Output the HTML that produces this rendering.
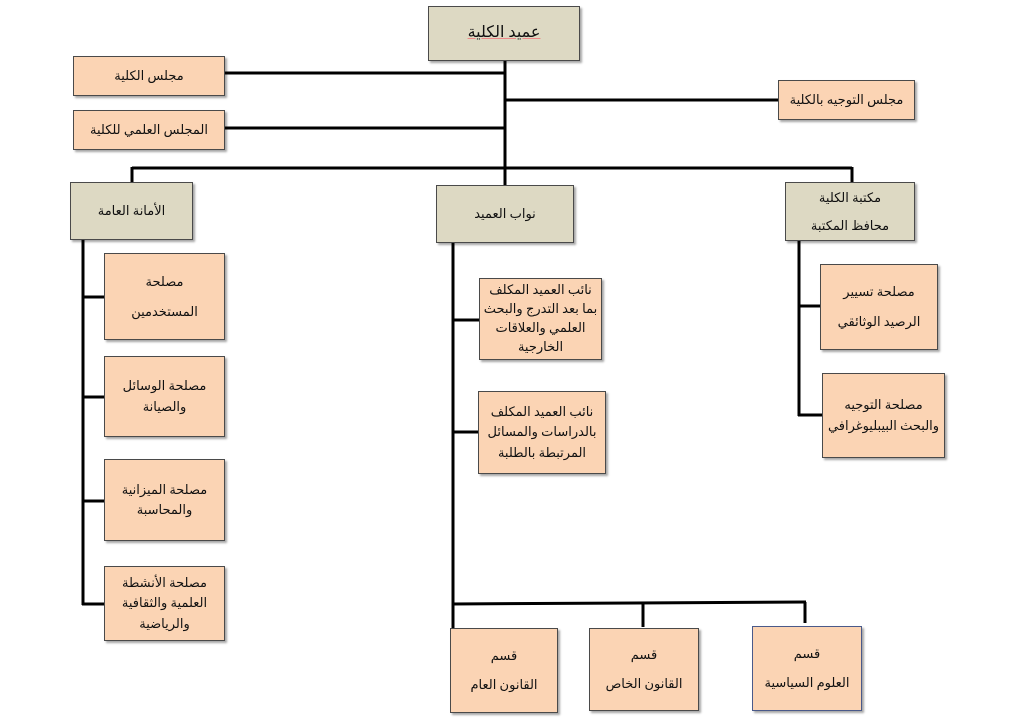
<!DOCTYPE html>
<html><head><meta charset="utf-8">
<style>
html,body{margin:0;padding:0;background:#fff;}
body{width:1024px;height:727px;position:relative;overflow:hidden;font-family:"Liberation Serif","DejaVu Sans",serif;}
.b{position:absolute;box-sizing:border-box;border:1.5px solid #4a4a4a;box-shadow:2px 2px 2px rgba(0,0,0,0.35);display:flex;flex-direction:column;align-items:center;justify-content:center;text-align:center;direction:rtl;font-size:13px;color:#111;line-height:1.55;}
.g{background:#ddd9c3;}
.p{background:#fbd4b4;}
svg{position:absolute;left:0;top:0;}
</style></head><body>
<svg width="1024" height="727">
<g stroke="#000" stroke-width="3" fill="none">
<line x1="505" y1="61" x2="505" y2="169"/>
<line x1="225" y1="73" x2="506" y2="73"/>
<line x1="505" y1="100" x2="778" y2="100"/>
<line x1="225" y1="128" x2="506" y2="128"/>
<line x1="132" y1="168" x2="852" y2="168"/>
<line x1="132" y1="167" x2="132" y2="182"/>
<line x1="505" y1="167" x2="505" y2="185"/>
<line x1="852" y1="167" x2="852" y2="182"/>
<line x1="83" y1="240" x2="83" y2="605"/>
<line x1="82" y1="297" x2="104" y2="297"/>
<line x1="82" y1="397" x2="104" y2="397"/>
<line x1="82" y1="501" x2="104" y2="501"/>
<line x1="82" y1="604" x2="104" y2="604"/>
<line x1="453" y1="243" x2="453" y2="628"/>
<line x1="452" y1="320" x2="479" y2="320"/>
<line x1="452" y1="432" x2="478" y2="432"/>
<line x1="452" y1="604" x2="806" y2="602"/>
<line x1="643" y1="603" x2="643" y2="627"/>
<line x1="805" y1="602" x2="805" y2="623"/>
<line x1="799" y1="241" x2="799" y2="416"/>
<line x1="798" y1="306" x2="820" y2="306"/>
<line x1="798" y1="415" x2="822" y2="415"/>
</g>
</svg>
<div class="b g" style="left:428px;top:6px;width:152px;height:55px;font-size:16px;"><span style="text-decoration:underline;text-decoration-color:#e88;">عميد الكلية</span></div>
<div class="b p" style="left:73px;top:56px;width:152px;height:40px;">مجلس الكلية</div>
<div class="b p" style="left:73px;top:110px;width:152px;height:40px;">المجلس العلمي للكلية</div>
<div class="b p" style="left:778px;top:80px;width:137px;height:40px;">مجلس التوجيه بالكلية</div>
<div class="b g" style="left:70px;top:182px;width:123px;height:58px;">الأمانة العامة</div>
<div class="b g" style="left:436px;top:185px;width:138px;height:58px;">نواب العميد</div>
<div class="b g" style="left:785px;top:182px;width:130px;height:59px;line-height:2.1;">مكتبة الكلية<br>محافظ المكتبة</div>
<div class="b p" style="left:104px;top:253px;width:121px;height:87px;line-height:2.3;">مصلحة<br>المستخدمين</div>
<div class="b p" style="left:104px;top:356px;width:121px;height:81px;">مصلحة الوسائل<br>والصيانة</div>
<div class="b p" style="left:104px;top:459px;width:121px;height:82px;">مصلحة الميزانية<br>والمحاسبة</div>
<div class="b p" style="left:104px;top:566px;width:121px;height:75px;">مصلحة الأنشطة<br>العلمية والثقافية<br>والرياضية</div>
<div class="b p" style="left:479px;top:278px;width:123px;height:82px;line-height:1.45;">نائب العميد المكلف<br>بما بعد التدرج والبحث<br>العلمي والعلاقات<br>الخارجية</div>
<div class="b p" style="left:478px;top:391px;width:128px;height:83px;">نائب العميد المكلف<br>بالدراسات والمسائل<br>المرتبطة بالطلبة</div>
<div class="b p" style="left:820px;top:264px;width:118px;height:86px;line-height:2.3;">مصلحة تسيير<br>الرصيد الوثائقي</div>
<div class="b p" style="left:822px;top:373px;width:123px;height:85px;">مصلحة التوجيه<br>والبحث البيبليوغرافي</div>
<div class="b p" style="left:450px;top:628px;width:108px;height:85px;line-height:2.2;">قسم<br>القانون العام</div>
<div class="b p" style="left:589px;top:628px;width:110px;height:83px;line-height:2.2;">قسم<br>القانون الخاص</div>
<div class="b p" style="left:752px;top:626px;width:110px;height:85px;line-height:2.2;border-color:#4a5a8a;">قسم<br>العلوم السياسية</div>
</body></html>
